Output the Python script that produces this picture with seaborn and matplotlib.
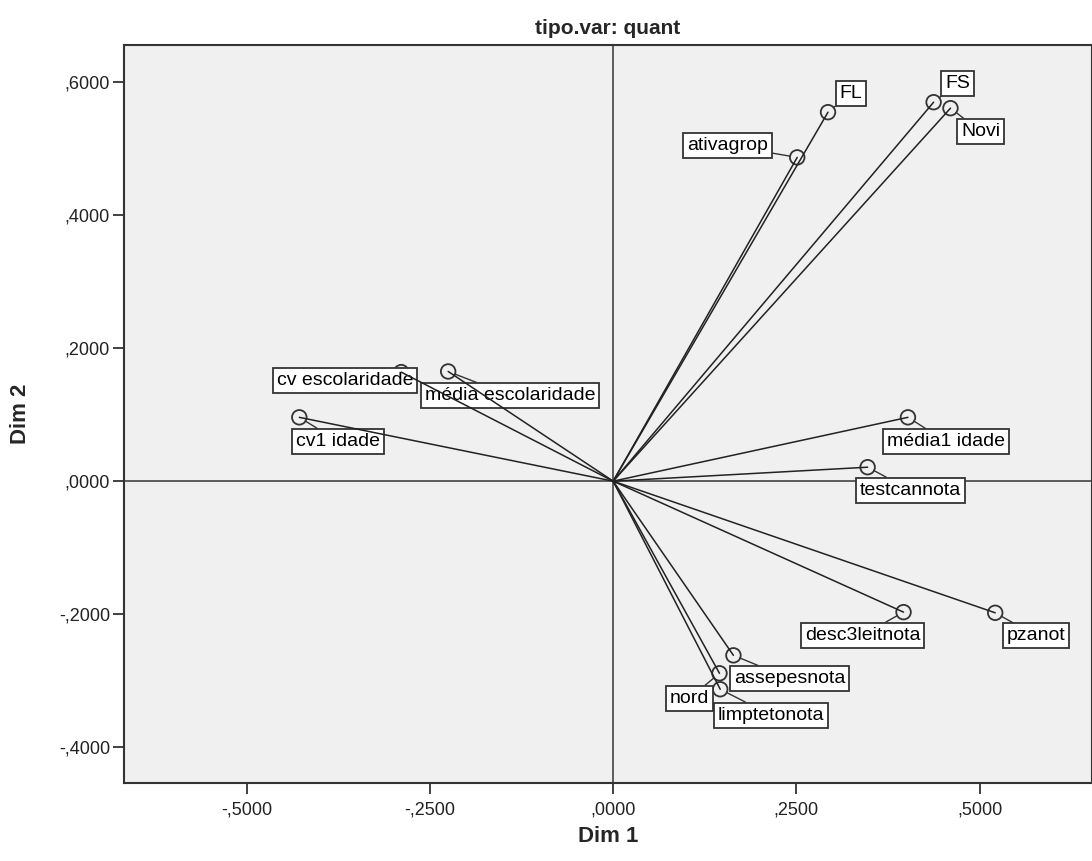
import matplotlib
matplotlib.use("Agg")
import matplotlib.pyplot as plt
import seaborn as sns
import pandas as pd
from matplotlib.ticker import FixedLocator, FuncFormatter

# ---- data ----
variables = ["FL", "ativagrop", "FS", "Novi", "média escolaridade", "cv escolaridade",
             "cv1 idade", "média1 idade", "testcannota", "desc3leitnota", "pzanot",
             "assepesnota", "nord", "limptetonota"]
dim1 = [0.293, 0.251, 0.437, 0.460, -0.225, -0.289,
        -0.428, 0.402, 0.347, 0.396, 0.521,
        0.164, 0.145, 0.146]
dim2 = [0.555, 0.487, 0.570, 0.561, 0.165, 0.164,
        0.096, 0.096, 0.021, -0.197, -0.198,
        -0.262, -0.289, -0.313]
x_ticks = [-0.5, -0.25, 0.0, 0.25, 0.5]
y_ticks = [-0.4, -0.2, 0.0, 0.2, 0.4, 0.6]
title = "tipo.var: quant"
x_label = "Dim 1"
y_label = "Dim 2"

# ---- layout: label offsets in pixels (label centre relative to point) ----
label_offsets = {
    "FL": (23, 19), "ativagrop": (-70, 12), "FS": (24, 19), "Novi": (30, -23),
    "média escolaridade": (62, -24), "cv escolaridade": (-56, -8),
    "cv1 idade": (39, -24), "média1 idade": (38, -24), "testcannota": (43, -23),
    "desc3leitnota": (-41, -23), "pzanot": (41, -23), "assepesnota": (56, -23),
    "nord": (-30, -25), "limptetonota": (51, -26),
}

df = pd.DataFrame({"variable": variables, "Dim 1": dim1, "Dim 2": dim2})

sns.set_theme(style="ticks")
plt.rcParams["font.family"] = ["Liberation Sans", "DejaVu Sans"]

fig = plt.figure(figsize=(10.92, 8.61), dpi=100)
ax = fig.add_axes([0.1136, 0.0906, 0.8864, 0.8571])
ax.set_facecolor("#F0F0F0")

ax.set_xlim(-0.667, 0.653)
ax.set_ylim(-0.454, 0.656)

# reference lines
ax.axhline(0, color="#444444", lw=1.2, zorder=1)
ax.axvline(0, color="#444444", lw=1.2, zorder=1)

# vectors from origin
for x, y in zip(df["Dim 1"], df["Dim 2"]):
    ax.plot([0, x], [0, y], color="#222222", lw=1.1, zorder=4)

sns.scatterplot(data=df, x="Dim 1", y="Dim 2", ax=ax, s=110, marker="o",
                facecolor="none", edgecolor="#333333", linewidth=1.3, zorder=2.5,
                legend=False)

for v, x, y in zip(df["variable"], df["Dim 1"], df["Dim 2"]):
    dx, dy = label_offsets[v]
    ax.annotate(v, xy=(x, y), xytext=(dx, dy), textcoords="offset pixels",
                ha="center", va="center", fontsize=14, color="black", zorder=3,
                bbox=dict(boxstyle="square,pad=0.2", fc="white", ec="#333333", lw=1.3),
                arrowprops=dict(arrowstyle="-", color="#333333", lw=1.0,
                                shrinkA=0, shrinkB=5))

ax.xaxis.set_major_locator(FixedLocator(x_ticks))
ax.yaxis.set_major_locator(FixedLocator(y_ticks))

def fmt(v, pos):
    s = f"{v:.4f}"
    if s.startswith("-0."):
        return "-," + s[3:]
    if s.startswith("0."):
        return "," + s[2:]
    return s

ax.xaxis.set_major_formatter(FuncFormatter(fmt))
ax.yaxis.set_major_formatter(FuncFormatter(fmt))
ax.tick_params(axis="both", direction="out", length=8, width=1.3, color="#333333",
               labelsize=13, labelcolor="#222222")
ax.tick_params(axis="x", pad=5)
ax.tick_params(axis="y", pad=2)

for sp in ax.spines.values():
    sp.set_visible(True)
    sp.set_color("#333333")
    sp.set_linewidth(1.5)

ax.set_title(title, fontsize=15, fontweight="bold", pad=8)
ax.set_xlabel(x_label, fontsize=16, fontweight="bold", labelpad=6)
ax.set_ylabel(y_label, fontsize=16, fontweight="bold", labelpad=20)

fig.savefig("out.png", dpi=100, facecolor="white")
